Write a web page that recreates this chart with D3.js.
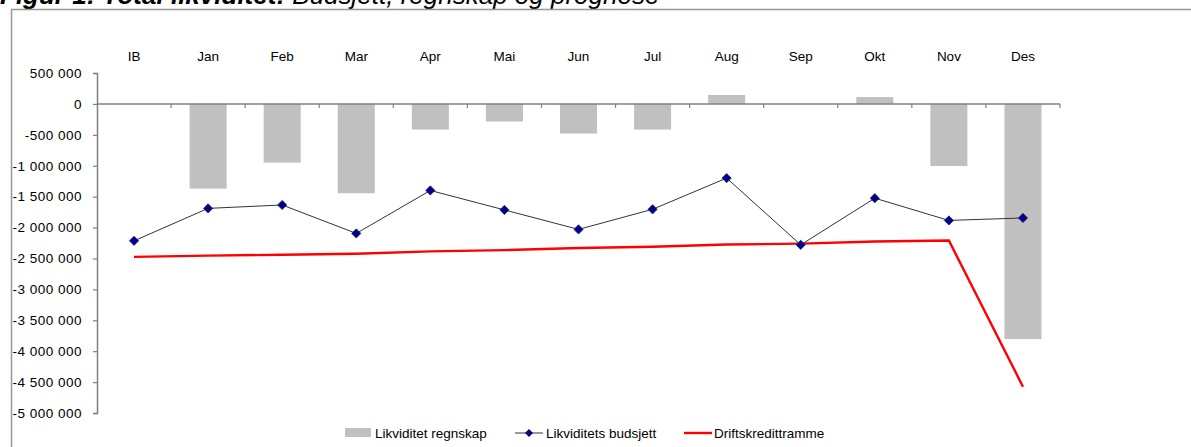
<!DOCTYPE html>
<html>
<head>
<meta charset="utf-8">
<script src="https://cdn.jsdelivr.net/npm/d3@7/dist/d3.min.js"></script>
<style>
  html, body { margin: 0; padding: 0; background: #fff; }
  svg { display: block; font-family: "Liberation Sans", Arial, sans-serif; }
</style>
</head>
<body>
<svg id="chart" width="1191" height="447"></svg>
<script>
// Months (IB = inngående balanse)
const categories = ["IB", "Jan", "Feb", "Mar", "Apr", "Mai", "Jun", "Jul", "Aug", "Sep", "Okt", "Nov", "Des"];

// Likviditet regnskap (bars)
const regnskap = [null, -1370000, -950000, -1445000, -415000, -285000, -480000, -415000, 145000, 0, 110000, -1005000, -3805000];

// Likviditets budsjett (line with markers)
const budsjett = [-2215000, -1690000, -1635000, -2095000, -1400000, -1715000, -2030000, -1705000, -1200000, -2280000, -1525000, -1885000, -1845000];

// Driftskredittramme (red line)
const kreditt = [-2475000, -2455000, -2440000, -2425000, -2385000, -2365000, -2330000, -2310000, -2275000, -2260000, -2225000, -2210000, -4575000];

// Y-axis tick values
const yTickValues = [500000, 0, -500000, -1000000, -1500000, -2000000, -2500000, -3000000, -3500000, -4000000, -4500000, -5000000];

const seriesNames = ["Likviditet regnskap", "Likviditets budsjett", "Driftskredittramme"];

const svg = d3.select("#chart");
const fontSize = 13.5;

const x = d3.scaleBand().domain(categories).range([97, 1060]).padding(0);
const y = d3.scaleLinear().domain([-5000000, 500000]).range([413, 73]);

const nf = d3.formatLocale({ thousands: " ", grouping: [3], decimal: ",", currency: ["", ""], minus: "-" }).format(",");

// Title (top part clipped by the page edge)
const title = svg.append("text")
  .attr("x", 0).attr("y", 4)
  .attr("font-size", 26).attr("font-style", "italic").attr("fill", "#000");
title.append("tspan").attr("font-weight", "bold").text("Figur 1: Total likviditet:");
title.append("tspan").text(" Budsjett, regnskap og prognose");

// Chart frame
svg.append("rect")
  .attr("x", 11.5).attr("y", 9.5).attr("width", 1250).attr("height", 500)
  .attr("fill", "none").attr("stroke", "#999").attr("stroke-width", 1.5);

// Bars
const bw = x.bandwidth() * 0.5;
svg.append("g").selectAll("rect")
  .data(categories.map((c, i) => ({ c, v: regnskap[i] })).filter(d => d.v !== null && d.v !== 0))
  .join("rect")
  .attr("x", d => x(d.c) + (x.bandwidth() - bw) / 2)
  .attr("width", bw)
  .attr("y", d => Math.min(y(d.v), y(0)))
  .attr("height", d => Math.abs(y(d.v) - y(0)))
  .attr("fill", "#c0c0c0");

// Y axis
const yAxis = svg.append("g")
  .attr("transform", `translate(${x.range()[0]},0)`)
  .call(d3.axisLeft(y).tickValues(yTickValues).tickFormat(nf).tickSize(4).tickPadding(11));
yAxis.select(".domain").attr("stroke", "#808080").attr("stroke-width", 1.5);
yAxis.selectAll(".tick line").attr("stroke", "#808080").attr("stroke-width", 1.2);
yAxis.selectAll(".tick text")
  .attr("font-size", fontSize).attr("font-family", "Liberation Sans, Arial, sans-serif")
  .attr("fill", "#000").attr("letter-spacing", 0.5);

// X axis along zero, with ticks at category boundaries
const x0 = y(0);
const gx = svg.append("g");
gx.append("line")
  .attr("x1", x.range()[0]).attr("x2", x.range()[1])
  .attr("y1", x0).attr("y2", x0)
  .attr("stroke", "#808080").attr("stroke-width", 1.5);
const bounds = categories.slice(1).map(c => x(c)).concat([x.range()[1]]);
gx.selectAll("line.tk").data(bounds).join("line")
  .attr("class", "tk")
  .attr("x1", d => d).attr("x2", d => d)
  .attr("y1", x0).attr("y2", x0 + 4)
  .attr("stroke", "#808080").attr("stroke-width", 1.2);

// Category labels above the plot
svg.append("g").selectAll("text")
  .data(categories).join("text")
  .attr("x", d => x(d) + x.bandwidth() / 2)
  .attr("y", 61)
  .attr("text-anchor", "middle")
  .attr("font-size", fontSize)
  .text(d => d);

// Driftskredittramme line
const lineGen = d3.line()
  .x((d, i) => x(categories[i]) + x.bandwidth() / 2)
  .y(d => y(d));
svg.append("path")
  .datum(kreditt)
  .attr("d", lineGen)
  .attr("fill", "none").attr("stroke", "#ff0000").attr("stroke-width", 2.4)
  .attr("stroke-linejoin", "miter");

// Budsjett line with diamond markers
svg.append("path")
  .datum(budsjett)
  .attr("d", lineGen)
  .attr("fill", "none").attr("stroke", "#333").attr("stroke-width", 1);

const diamond = "M0,-4.6L4.6,0L0,4.6L-4.6,0Z";
svg.append("g").selectAll("path")
  .data(budsjett).join("path")
  .attr("transform", (d, i) => `translate(${x(categories[i]) + x.bandwidth() / 2},${y(d)})`)
  .attr("d", diamond)
  .attr("fill", "#000080").attr("stroke", "#1a1a8c").attr("stroke-width", 0.8);

// Legend
const lg = svg.append("g").attr("font-size", fontSize);
const ly = 433;
lg.append("rect").attr("x", 345).attr("y", 428).attr("width", 26).attr("height", 9).attr("fill", "#c0c0c0");
lg.append("text").attr("x", 375).attr("y", ly + 5).text(seriesNames[0]);
lg.append("line").attr("x1", 515).attr("x2", 543).attr("y1", ly).attr("y2", ly).attr("stroke", "#333").attr("stroke-width", 1);
lg.append("path").attr("transform", `translate(529,${ly})`).attr("d", "M0,-4L4,0L0,4L-4,0Z").attr("fill", "#000080");
lg.append("text").attr("x", 546).attr("y", ly + 5).text(seriesNames[1]);
lg.append("line").attr("x1", 684).attr("x2", 712).attr("y1", ly).attr("y2", ly).attr("stroke", "#ff0000").attr("stroke-width", 2.4);
lg.append("text").attr("x", 714).attr("y", ly + 5).text(seriesNames[2]);
</script>
</body>
</html>
